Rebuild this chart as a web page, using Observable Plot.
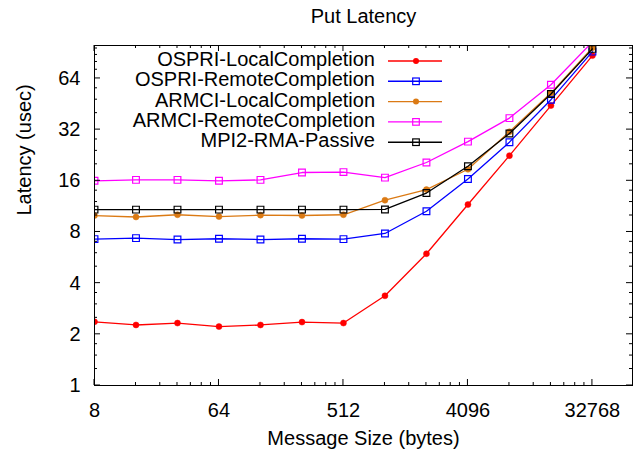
<!DOCTYPE html>
<html><head><meta charset="utf-8">
<script src="https://cdn.jsdelivr.net/npm/d3@7"></script>
<script src="https://cdn.jsdelivr.net/npm/@observablehq/plot@0.6"></script>
<style>body{margin:0;background:#fff}</style>
</head><body><div id="chart"></div>
<script>
const title = "Put Latency";
const xLabel = "Message Size (bytes)";
const yLabel = "Latency (usec)";
const sizes = [8, 16, 32, 64, 128, 256, 512, 1024, 2048, 4096, 8192, 16384, 32768];
const seriesNames = ["OSPRI-LocalCompletion", "OSPRI-RemoteCompletion", "ARMCI-LocalCompletion", "ARMCI-RemoteCompletion", "MPI2-RMA-Passive"];
const seriesColors = ["#ff0000", "#0000ff", "#db7a14", "#ff00ff", "#000000"];
const seriesSymbols = ["circle", "square", "circle", "square", "square"];
const ospriLocal  = [2.37, 2.27, 2.33, 2.22, 2.27, 2.36, 2.33, 3.37, 5.96, 11.6, 22.5, 44.3, 87.2];
const ospriRemote = [7.26, 7.36, 7.22, 7.30, 7.22, 7.30, 7.26, 7.84, 10.6, 16.4, 27.0, 48.0, 92.0];
const armciLocal  = [9.99, 9.80, 10.1, 9.85, 10.05, 10.0, 10.1, 12.3, 14.2, 18.7, 31.1, 52.5, 97.0];
const armciRemote = [16.0, 16.2, 16.2, 16.0, 16.2, 17.9, 18.0, 16.7, 20.5, 27.2, 37.4, 58.8, 105];
const mpiPassive  = [10.83, 10.83, 10.83, 10.83, 10.83, 10.83, 10.83, 10.86, 13.55, 19.5, 30.4, 51.8, 95.5];
const xTicks = [8, 64, 512, 4096, 32768];
const yTicks = [1, 2, 4, 8, 16, 32, 64];
const xMinorTicks = [16, 24, 32, 40, 48, 56, 128, 192, 256, 320, 384, 448, 1024, 1536, 2048, 2560, 3072, 3584, 8192, 12288, 16384, 20480, 24576, 28672];
const yMinorTicks = [1.25, 1.5, 1.75, 2.5, 3, 3.5, 5, 6, 7, 10, 12, 14, 20, 24, 28, 40, 48, 56, 72, 80, 88, 96];

const FONT = "'Liberation Sans', Arial, Helvetica, sans-serif";
const seriesValues = [ospriLocal, ospriRemote, armciLocal, armciRemote, mpiPassive];

const marks = [];
seriesNames.forEach((name, i) => {
  const d = sizes.map((s, j) => ({name, size: s, latency: seriesValues[i][j]}));
  const col = seriesColors[i];
  marks.push(Plot.line(d, {x: "size", y: "latency", stroke: col, strokeWidth: 1.3, clip: true}));
  const sq = seriesSymbols[i] === "square";
  marks.push(Plot.dot(d, {x: "size", y: "latency", symbol: seriesSymbols[i], r: sq ? 3.8 : 3,
    fill: sq ? "none" : col, stroke: col, strokeWidth: sq ? 1.2 : 0.5, clip: true}));
});

const chart = Plot.plot({
  width: 640, height: 454,
  marginLeft: 94, marginRight: 8, marginTop: 45, marginBottom: 69,
  style: {fontFamily: FONT, background: "white", color: "black"},
  x: {type: "log", domain: [8, 64000], axis: null},
  y: {type: "log", domain: [1, 100], axis: null},
  marks: [
    Plot.text(xTicks, {x: d => d, text: d => String(d), frameAnchor: "bottom", dy: 17, lineAnchor: "top", fontSize: 20, fill: "black"}),
    Plot.text(yTicks, {y: d => d, text: d => String(d), frameAnchor: "left", dx: -14, textAnchor: "end", fontSize: 20, fill: "black"}),
    ...marks,
    Plot.frame({stroke: "black", strokeWidth: 1}),
    Plot.text([title], {frameAnchor: "top", dy: -23, lineAnchor: "bottom", fontSize: 20}),
    Plot.text([xLabel], {frameAnchor: "bottom", dy: 59, lineAnchor: "bottom", fontSize: 20}),
    Plot.text([yLabel], {frameAnchor: "left", dx: -64, rotate: -90, lineAnchor: "bottom", fontSize: 20})
  ]
});
document.getElementById("chart").appendChild(chart);

// inward ticks on all four sides, positioned by Plot's scales
const xs = chart.scale("x"), ys = chart.scale("y");
const svg = d3.select(chart);
const L = 94, R = 632, T = 45, B = 385;
const tg = svg.append("g").attr("stroke", "black").attr("stroke-width", 1);
const drawX = (vals, len) => vals.forEach(v => {
  const x = xs.apply(v);
  tg.append("line").attr("x1", x).attr("x2", x).attr("y1", B).attr("y2", B - len);
  tg.append("line").attr("x1", x).attr("x2", x).attr("y1", T).attr("y2", T + len);
});
const drawY = (vals, len) => vals.forEach(v => {
  const y = ys.apply(v);
  tg.append("line").attr("y1", y).attr("y2", y).attr("x1", L).attr("x2", L + len);
  tg.append("line").attr("y1", y).attr("y2", y).attr("x1", R).attr("x2", R - len);
});
drawX(xTicks, 6); drawX(xMinorTicks, 3);
drawY(yTicks, 6); drawY(yMinorTicks, 3);

// legend
const lg = svg.append("g").attr("font-family", FONT).attr("font-size", 20);
seriesNames.forEach((name, i) => {
  const y = 61 + i * 20.3;
  const col = seriesColors[i];
  lg.append("text").attr("x", 375).attr("y", y + 5).attr("text-anchor", "end").attr("fill", "black").text(name);
  lg.append("line").attr("x1", 388).attr("x2", 442).attr("y1", y).attr("y2", y).attr("stroke", col).attr("stroke-width", 1.4);
  if (seriesSymbols[i] === "square") {
    lg.append("rect").attr("x", 416 - 3.3).attr("y", y - 3.3).attr("width", 6.6).attr("height", 6.6)
      .attr("fill", "none").attr("stroke", col).attr("stroke-width", 1.2);
  } else {
    lg.append("circle").attr("cx", 416).attr("cy", y).attr("r", 3).attr("fill", col);
  }
});
</script>
</body></html>
